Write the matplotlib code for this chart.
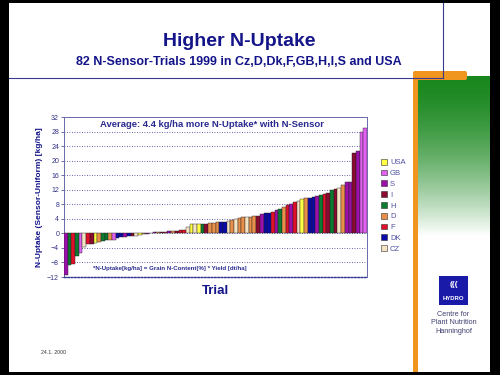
import numpy as np
import matplotlib
matplotlib.use("Agg")
import matplotlib.pyplot as plt
from matplotlib.patches import Patch, Rectangle, FancyBboxPatch

plt.rcParams['font.family'] = ['Liberation Sans', 'DejaVu Sans']

# country order as in the legend (top to bottom)
countries = ['USA', 'GB', 'S', 'I', 'H', 'D', 'F', 'DK', 'CZ']
country_colors = {
    'USA': '#ffff44', 'GB': '#e060f0', 'S': '#9a10a8', 'I': '#8a0a30',
    'H': '#0c7a30', 'D': '#e8904a', 'F': '#e0102a', 'DK': '#0a0aa8',
    'CZ': '#f4e4c4',
}

# N-uptake difference (sensor - uniform) per trial, kg/ha, sorted
uptake = [
    -11.5, -8.7, -8.5, -6.3, -5.5, -3.8, -3.0, -2.8, -2.6, -2.5, -2.0, -1.9,
    -1.8, -1.7, -1.3, -1.0, -0.9, -0.8, -0.7, -0.6, -0.5, -0.3, -0.1,
    0.2, 0.3, 0.4, 0.5, 0.5, 0.6, 0.6, 0.7, 0.8, 1.0, 1.7,
    2.6, 2.6, 2.6, 2.6, 2.7, 2.9, 2.9, 3.0, 3.1, 3.2, 3.5, 3.7, 4.0, 4.1,
    4.4, 4.5, 4.6, 4.7, 4.9, 5.3, 5.5, 5.7, 6.0, 6.3, 6.8, 7.2, 7.7,
    8.2, 8.6, 9.0, 9.4, 9.6, 9.8, 10.0, 10.2, 10.5, 10.8, 11.2,
    11.8, 12.1, 12.6, 13.2, 14.0, 14.2, 22.0, 22.7, 27.8, 29.0,
]
trial_country = [
    'S', 'H', 'F', 'H', 'GB', 'CZ', 'F', 'I', 'USA', 'D', 'H', 'H',
    'D', 'GB', 'DK', 'DK', 'S', 'DK', 'I', 'CZ', 'USA', 'D', 'S',
    'I', 'S', 'D', 'I', 'F', 'S', 'D', 'I', 'F', 'F', 'CZ',
    'USA', 'CZ', 'USA', 'H', 'I', 'D', 'D', 'D', 'DK', 'DK', 'CZ', 'D', 'CZ', 'D',
    'D', 'CZ', 'D', 'D', 'I', 'S', 'DK', 'DK', 'F', 'S', 'H', 'D', 'F',
    'S', 'F', 'CZ', 'USA', 'D', 'DK', 'DK', 'S', 'H', 'F', 'I',
    'H', 'I', 'CZ', 'D', 'S', 'S', 'I', 'S', 'GB', 'GB',
]
y_ticks = list(range(-12, 33, 4))

navy = '#14148a'
W, H = 500, 375
fig = plt.figure(figsize=(5, 3.75), dpi=100)
fig.patch.set_facecolor('black')

# slide background and decorations in pixel coordinates
bg = fig.add_axes([0, 0, 1, 1])
bg.set_xlim(0, W)
bg.set_ylim(H, 0)
bg.axis('off')
bg.add_patch(Rectangle((9, 3), 481, 369, facecolor='white', edgecolor='none'))

grad = np.linspace(0, 1, 200) ** 1.6
green = np.array([0.10, 0.53, 0.12])
img = green[None, :] * (1 - grad[:, None]) + grad[:, None]
bg.imshow(img[:, None, :], extent=[418, 490, 236, 76], aspect='auto', zorder=1)
bg.add_patch(FancyBboxPatch((415, 73), 50, 5, boxstyle='round,pad=2',
                            facecolor='#f0961e', edgecolor='none', zorder=2))
bg.add_patch(Rectangle((413, 74), 5, 298, facecolor='#f0961e', edgecolor='none', zorder=2))
bg.plot([9, 443], [78, 78], color='#3a3a90', lw=0.8, zorder=3)
bg.plot([443, 443], [3, 78], color='#3a3a90', lw=0.8, zorder=3)

bg.text(239, 42, 'Higher N-Uptake', ha='center', va='center', fontsize=14,
        fontweight='bold', color=navy)
bg.text(239, 62, '82 N-Sensor-Trials 1999 in Cz,D,Dk,F,GB,H,I,S and USA',
        ha='center', va='center', fontsize=9, fontweight='bold', color=navy)

bg.add_patch(Rectangle((439, 276), 29, 29, facecolor='#1a1aa8', edgecolor='none'))
bg.text(453.5, 285, '(((', ha='center', va='center', fontsize=6, color='white', fontweight='bold')
bg.text(453.5, 299, 'HYDRO', ha='center', va='center', fontsize=4.3, color='white', fontweight='bold')
bg.text(453.5, 323, 'Centre for\nPlant Nutrition\nHanninghof', ha='center', va='center',
        fontsize=5.2, color='#404070', linespacing=1.35)
bg.text(41, 353, '24.1. 2000', ha='left', va='center', fontsize=3.8, color='#333333')

# chart
ax = fig.add_axes([64 / W, 1 - 277 / H, 303 / W, 160 / H])
x = np.arange(len(uptake))
ax.bar(x, uptake, width=1.0, color=[country_colors[c] for c in trial_country],
       edgecolor='#202020', linewidth=0.3, zorder=3)
ax.set_xlim(-0.5, len(uptake) - 0.5)
ax.set_ylim(-12, 32)
ax.set_yticks(y_ticks)
ax.tick_params(axis='y', labelsize=5, colors='#333388', length=2, width=0.5, pad=1.5)
ax.set_xticks([])
ax.yaxis.grid(True, linestyle=(0, (1, 2)), color='#303090', linewidth=0.6, zorder=0)
for s in ['left', 'right', 'top']:
    ax.spines[s].set_color('#6a6aaa')
    ax.spines[s].set_linewidth(0.7)
ax.spines['bottom'].set_linestyle((0, (1.2, 1.2)))
ax.spines['bottom'].set_color('#303090')
ax.spines['bottom'].set_linewidth(1.0)
ax.set_ylabel('N-Uptake (Sensor-Uniform) [kg/ha]', fontsize=6, fontweight='bold',
              color=navy, labelpad=3)
ax.set_xlabel('Trial', fontsize=9.5, fontweight='bold', color=navy, labelpad=6)
ax.text(0.49, 0.955, 'Average: 4.4 kg/ha more N-Uptake* with N-Sensor', transform=ax.transAxes,
        ha='center', va='center', fontsize=6.8, fontweight='bold', color='#2a2a90')
ax.text(0.35, 0.055, '*N-Uptake[kg/ha] = Grain N-Content[%] * Yield [dt/ha]', transform=ax.transAxes,
        ha='center', va='center', fontsize=4.4, fontweight='bold', color='#2a2a90')

handles = [Patch(facecolor=country_colors[c], edgecolor='#303030', linewidth=0.4) for c in countries]
fig.legend(handles, countries, loc='upper left', bbox_to_anchor=(377 / W, 1 - 155 / H),
           frameon=False, fontsize=5.5, handlelength=0.8, handleheight=0.8,
           labelspacing=0.42, handletextpad=0.4, labelcolor='#5050a0', borderpad=0)

fig.savefig('out.png', dpi=100, facecolor=fig.get_facecolor())
